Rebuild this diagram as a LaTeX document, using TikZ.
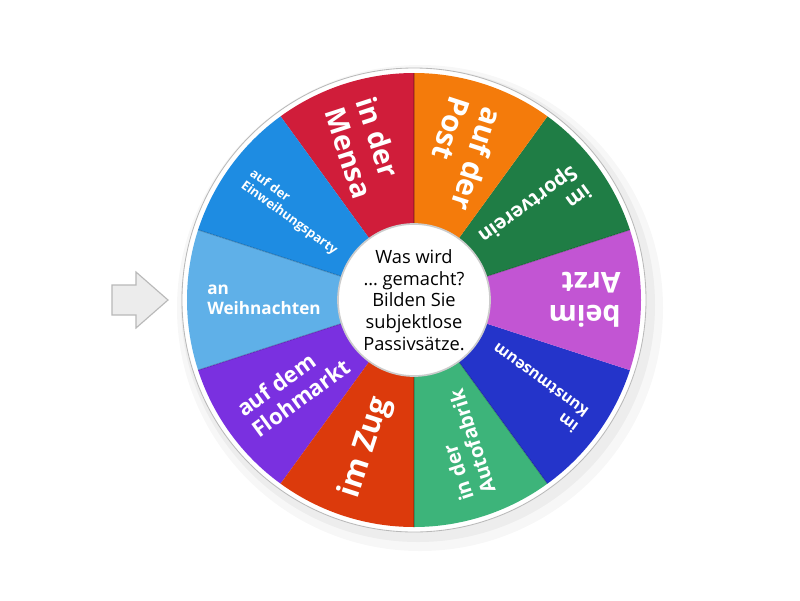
\documentclass[tikz,border=0pt]{standalone}
\usepackage{fontspec}
\setmainfont{Open Sans}
\usepackage{tikz}

\definecolor{lightblue}{HTML}{5FB0E8}
\definecolor{violet}{HTML}{7A30E0}
\definecolor{rust}{HTML}{DC3A0C}
\definecolor{mint}{HTML}{3DB47A}
\definecolor{royal}{HTML}{2434CA}
\definecolor{orchid}{HTML}{C255D3}
\definecolor{forest}{HTML}{1F7D45}
\definecolor{tangerine}{HTML}{F47B0B}
\definecolor{crimson}{HTML}{D01D3A}
\definecolor{azure}{HTML}{1E8CE2}

\newcommand\slicesize[1]{\pgfmathsetmacro\sliceskip{1.15*#1}\fontsize{#1}{\sliceskip}\selectfont}

\begin{document}
\begin{tikzpicture}[x=0.025cm,y=0.025cm,
  slice/.style={text=white,anchor=west,inner sep=0pt,align=left,font=\bfseries\slicesize{#1}},
  hub/.style={circle,fill=white,draw=gray!40,line width=1.2pt,minimum size=3.8cm,inner sep=0pt,align=center,font=\fontsize{13}{15.4}\selectfont},
  pointer/.style={fill=gray!15,draw=gray!55,line width=0.8pt,line join=miter},
  seam/.style={black,opacity=0.18,line width=0.8pt}]

\useasboundingbox[fill=white] (-414,-300) rectangle (386,300);

% shadow and rim
\fill[black,opacity=0.03] (6,-8) circle (243);
\fill[black,opacity=0.04] (4,-5) circle (237);
\fill[white,draw=gray!55,line width=0.6pt] (0,0) circle (232);

% slices
\fill[lightblue] (0,0) -- (162:227) arc[start angle=162,end angle=198,radius=227] -- cycle;
\fill[violet] (0,0) -- (198:227) arc[start angle=198,end angle=234,radius=227] -- cycle;
\fill[rust] (0,0) -- (234:227) arc[start angle=234,end angle=270,radius=227] -- cycle;
\fill[mint] (0,0) -- (270:227) arc[start angle=270,end angle=306,radius=227] -- cycle;
\fill[royal] (0,0) -- (306:227) arc[start angle=306,end angle=342,radius=227] -- cycle;
\fill[orchid] (0,0) -- (-18:227) arc[start angle=-18,end angle=18,radius=227] -- cycle;
\fill[forest] (0,0) -- (18:227) arc[start angle=18,end angle=54,radius=227] -- cycle;
\fill[tangerine] (0,0) -- (54:227) arc[start angle=54,end angle=90,radius=227] -- cycle;
\fill[crimson] (0,0) -- (90:227) arc[start angle=90,end angle=126,radius=227] -- cycle;
\fill[azure] (0,0) -- (126:227) arc[start angle=126,end angle=162,radius=227] -- cycle;

\draw[seam] (0,0) -- (18:227);
\draw[seam] (0,0) -- (90:227);
\draw[seam] (0,0) -- (162:227);
\draw[seam] (0,0) -- (198:227);
\draw[seam] (0,0) -- (270:227);
\draw[seam] (0,0) -- (306:227);

% labels
\node[slice=12.2,rotate=0] (weihnachten) at (180:207) {an\\Weihnachten};
\node[slice=15.7,rotate=36] (flohmarkt) at (216:207) {auf dem\\Flohmarkt};
\node[slice=21.9,rotate=72] (zug) at (252:207) {im Zug};
\node[slice=14.2,rotate=108] (autofabrik) at (288:207) {in der\\Autofabrik};
\node[slice=11.1,rotate=144] (kunstmuseum) at (324:207) {im\\Kunstmuseum};
\node[slice=20.4,rotate=180] (arzt) at (0:207) {beim\\Arzt};
\node[slice=14.2,rotate=216] (sportverein) at (36:207) {im\\Sportverein};
\node[slice=21.1,rotate=252] (post) at (72:207) {auf der\\Post};
\node[slice=20.2,rotate=288] (mensa) at (108:207) {in der\\Mensa};
\node[slice=9.1,rotate=324] (party) at (144:207) {auf der\\Einweihungsparty};

% centre
\node[hub] (frage) at (0,0) {Was wird\\… gemacht?\\Bilden Sie\\subjektlose\\Passivsätze.};

% pointer
\draw[pointer] (-302,15) -- (-278,15) -- (-278,28) -- (-246,0) -- (-278,-28) -- (-278,-15) -- (-302,-15) -- cycle;

\end{tikzpicture}
\end{document}
